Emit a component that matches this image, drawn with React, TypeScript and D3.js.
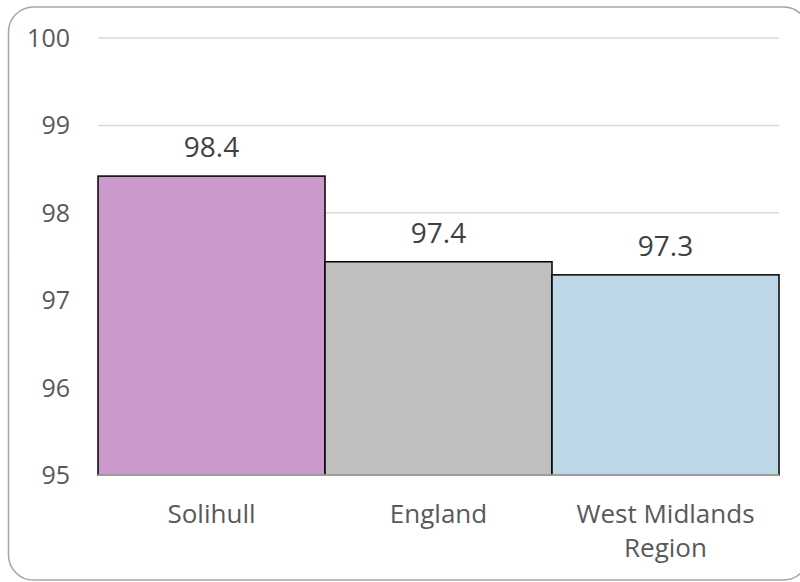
import { useEffect, useRef } from 'react';
import * as d3 from 'd3';

const categories = ['Solihull', 'England', 'West Midlands Region'];
const categoryLines = [['Solihull'], ['England'], ['West Midlands', 'Region']];
const values = [98.42, 97.44, 97.29];
const barColors = ['#CC99CC', '#BFBFBF', '#BDD7E7'];
const yTicks = [95, 96, 97, 98, 99, 100];

export default function App() {
  const chartRef = useRef<SVGSVGElement>(null);

  useEffect(() => {
    if (!chartRef.current) return;
    const svg = d3.select(chartRef.current);
    svg.selectAll('*').remove();

    const width = 800;
    const height = 582;
    const margin = { top: 38, right: 21, bottom: 107, left: 98 };
    const font = '"Open Sans", sans-serif';

    // outer frame
    svg.append('rect')
      .attr('x', 8.5)
      .attr('y', 7)
      .attr('width', 800)
      .attr('height', 573)
      .attr('rx', 25)
      .attr('fill', '#fff')
      .attr('stroke', '#a6a6a6')
      .attr('stroke-width', 1.5);

    const x = d3.scaleBand<string>()
      .domain(categories)
      .range([margin.left, width - margin.right])
      .padding(0);

    const y = d3.scaleLinear()
      .domain([95, 100])
      .range([height - margin.bottom, margin.top]);

    // gridlines
    svg.append('g')
      .selectAll('line')
      .data(yTicks)
      .enter()
      .append('line')
      .attr('x1', margin.left)
      .attr('x2', width - margin.right)
      .attr('y1', d => y(d))
      .attr('y2', d => y(d))
      .attr('stroke', '#d9d9d9')
      .attr('stroke-width', 1.5);

    // y tick labels
    svg.append('g')
      .selectAll('text')
      .data(yTicks)
      .enter()
      .append('text')
      .attr('x', 70)
      .attr('y', d => y(d))
      .attr('dy', '0.36em')
      .attr('text-anchor', 'end')
      .style('font-family', font)
      .style('font-size', '25px')
      .attr('fill', '#595959')
      .text(d => d);

    // bars
    svg.append('g')
      .selectAll('rect')
      .data(values)
      .enter()
      .append('rect')
      .attr('x', (_, i) => x(categories[i]) || 0)
      .attr('y', d => y(d))
      .attr('width', x.bandwidth())
      .attr('height', d => y(95) - y(d))
      .attr('fill', (_, i) => barColors[i])
      .attr('stroke', '#000')
      .attr('stroke-width', 1.5);

    // category axis line
    svg.append('line')
      .attr('x1', margin.left)
      .attr('x2', width - margin.right)
      .attr('y1', y(95))
      .attr('y2', y(95))
      .attr('stroke', '#bfbfbf')
      .attr('stroke-width', 1.5);

    // value labels
    svg.append('g')
      .selectAll('text')
      .data(values)
      .enter()
      .append('text')
      .attr('x', (_, i) => (x(categories[i]) || 0) + x.bandwidth() / 2)
      .attr('y', d => y(d) - 19)
      .attr('text-anchor', 'middle')
      .style('font-family', font)
      .style('font-size', '28px')
      .attr('fill', '#404040')
      .text(d => d.toFixed(1));

    // category labels
    categories.forEach((c, i) => {
      const cx = (x(c) || 0) + x.bandwidth() / 2;
      const t = svg.append('text')
        .attr('x', cx)
        .attr('y', y(95) + 48)
        .attr('text-anchor', 'middle')
        .style('font-family', font)
        .style('font-size', '26px')
        .attr('fill', '#595959');
      categoryLines[i].forEach((l, j) => {
        t.append('tspan')
          .attr('x', cx)
          .attr('dy', j === 0 ? 0 : 34)
          .text(l);
      });
    });
  }, []);

  return (
    <svg
      ref={chartRef}
      width={800}
      height={582}
      style={{ position: 'absolute', left: 0, top: 0, background: '#fff' }}
    />
  );
}
